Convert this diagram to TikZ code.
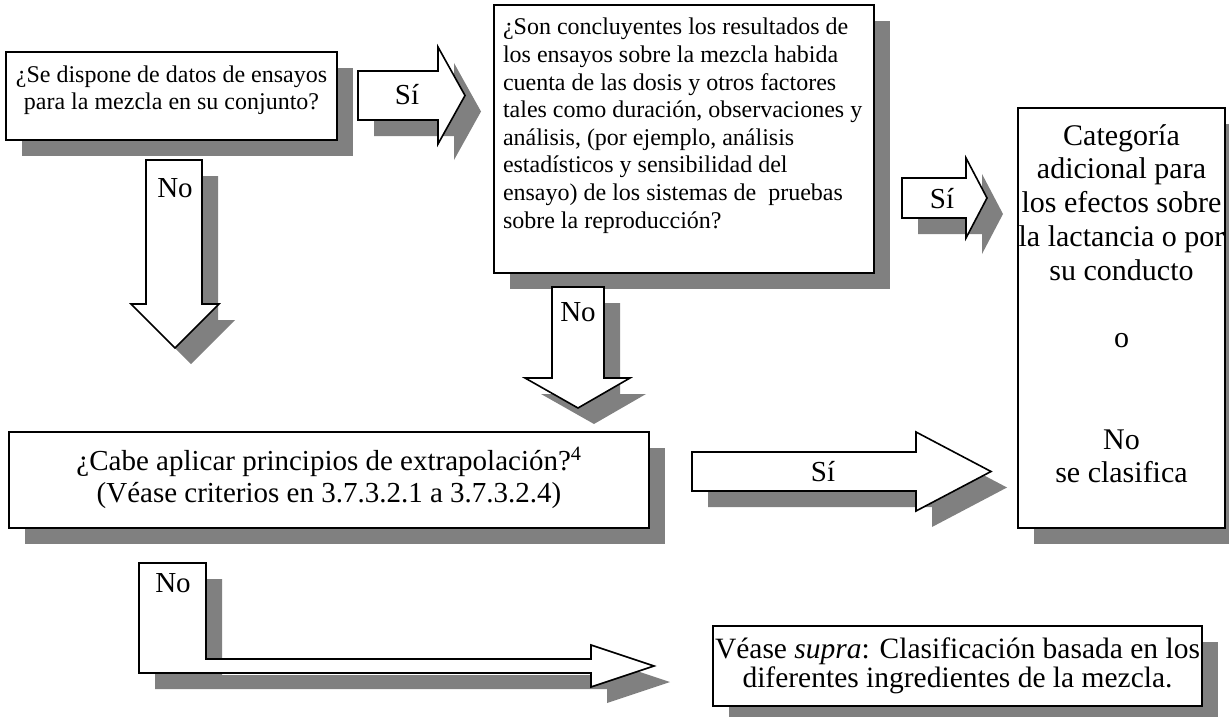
\documentclass[tikz,border=0pt]{standalone}
\usepackage{fontspec}
\setmainfont{Liberation Serif}
\definecolor{shadowgray}{HTML}{808080}
\begin{document}
\begin{tikzpicture}[x=1pt, y=-1pt,
  withshadow/.style={preaction={fill=shadowgray, transform canvas={xshift=16pt, yshift=-16pt}}},
  box/.style={draw, line width=1.6pt, fill=white, inner sep=0pt, withshadow},
  blockarrow/.style={draw, line width=1.6pt, fill=white, line join=miter, withshadow},
  lab/.style={font=\fontsize{29}{33}\selectfont, inner sep=0pt}]
  \useasboundingbox (0,0) rectangle (1229,717);

  % the question boxes
  \node[box] (datos) at (171.5,96) {\parbox[t][88pt][t]{331pt}{\centering\fontsize{24}{27}\selectfont
    \rule{0pt}{31pt}¿Se dispone de datos de ensayos\\ para la mezcla en su conjunto?}};
  \node[box, inner xsep=9pt] (ensayos) at (684,139) {\parbox[t][268pt][t]{362pt}{\raggedright\fontsize{24}{27.6}\selectfont
    \rule{0pt}{30pt}¿Son concluyentes los resultados de\\
    los ensayos sobre la mezcla habida\\
    cuenta de las dosis y otros factores\\
    tales como duración, observaciones y\\
    análisis, (por ejemplo, análisis\\
    estadísticos y sensibilidad del\\
    ensayo) de los sistemas de~ pruebas\\
    sobre la reproducción?}};
  \node[box] (categoria) at (1121.5,318) {\parbox[t][420pt][t]{207pt}{\centering\fontsize{30}{33.8}\selectfont
    \rule{0pt}{37pt}Categoría\\ adicional para\\ los efectos sobre\\ la lactancia o por\\ su conducto\\[33.8pt]
    o\\[67.6pt]
    No\\ se clasifica}};
  \node[box] (extrapol) at (329,480) {\parbox[t][96pt][t]{640pt}{\centering\fontsize{29}{32}\selectfont
    \rule{0pt}{38pt}¿Cabe aplicar principios de extrapolación?\textsuperscript{4}\\
    (Véase criterios en 3.7.3.2.1 a 3.7.3.2.4)}};
  \node[box] (supra) at (957.5,666) {\parbox[t][80pt][t]{489pt}{\centering\fontsize{29.5}{29}\selectfont
    \rule{0pt}{32pt}Véase \textit{supra}: Clasificación basada en los\\ diferentes ingredientes de la mezcla.}};

  % block arrows
  \draw[blockarrow] (358,71) -- (438,71) -- (438,47) -- (465,95.5) -- (438,144) -- (438,120) -- (358,120) -- cycle;
  \draw[blockarrow] (902,178) -- (966,178) -- (966,158) -- (987,198) -- (966,238) -- (966,218) -- (902,218) -- cycle;
  \draw[blockarrow] (692,452) -- (916,452) -- (916,432) -- (991,471.5) -- (916,511) -- (916,491) -- (692,491) -- cycle;
  \draw[blockarrow] (146,160) -- (202,160) -- (202,304) -- (219,304) -- (175,348) -- (131,304) -- (146,304) -- cycle;
  \draw[blockarrow] (552,287) -- (604,287) -- (604,378) -- (630,378) -- (578,408) -- (525,378) -- (552,378) -- cycle;
  \draw[blockarrow] (139,563) -- (206,563) -- (206,659) -- (591,659) -- (591,645) -- (654,666) -- (591,687) -- (591,673) -- (139,673) -- cycle;

  \node[lab] (si1) at (407,95) {Sí};
  \node[lab] (si2) at (942,199) {Sí};
  \node[lab] (si3) at (823,472) {Sí};
  \node[lab] (no1) at (175,188) {No};
  \node[lab] (no2) at (578,312) {No};
  \node[lab] (no3) at (173,583) {No};
\end{tikzpicture}
\end{document}
